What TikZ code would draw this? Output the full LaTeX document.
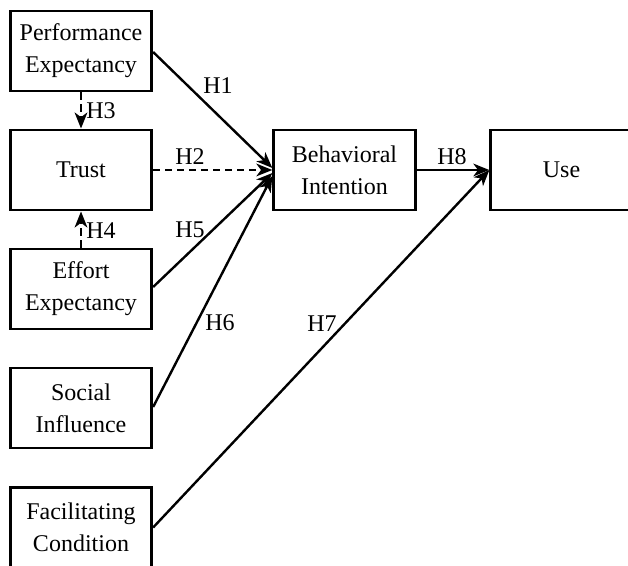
\documentclass[tikz,border=0pt]{standalone}
\usepackage{fontspec}
\setmainfont{Liberation Serif}
\usetikzlibrary{arrows.meta}

\begin{document}
\begin{tikzpicture}
[x=0.75pt,y=-0.75pt,%
  construct/.style={shape=rectangle,draw,line width=2.2pt,align=center,
    minimum width=106pt,minimum height=60pt,inner sep=0pt},%
  hyp/.style={inner sep=1pt},%
  path/.style={line width=1.8pt,-{Stealth[length=12pt,width=9.5pt,inset=3.5pt]}},%
  weak/.style={path,dash pattern=on 5.5pt off 3.5pt}]
\path[use as bounding box,clip] (0,0) rectangle (628,566);
\fontsize{18}{24}\selectfont
% exogenous constructs
\node[construct] (pe) at (81,51) {Performance\\Expectancy};
\node[construct] (tr) at (81,170) {Trust};
\node[construct] (ee) at (81,289) {Effort\\Expectancy};
\node[construct] (si) at (81,408) {Social\\Influence};
\node[construct] (fc) at (81,527.5) {Facilitating\\Condition};
% endogenous constructs
\node[construct] (bi) at (344.5,170) {Behavioral\\Intention};
\node[construct] (use) at (561.5,170) {Use};
% paths
\draw[path] (pe.east |- 0,52) -- (bi.west |- 0,168);
\draw[weak] (tr.east) -- (bi.west);
\draw[weak] (pe.south) -- (tr.north);
\draw[weak] (ee.north) -- (tr.south);
\draw[path] (ee.east |- 0,287) -- (bi.west |- 0,173);
\draw[path] (si.east |- 0,407) -- (bi.west |- 0,176);
\draw[path] (fc.east) -- (use.west);
\draw[path] (bi.east) -- (use.west);
% hypothesis labels
\node[hyp] (h1) at (218,86) {H1};
\node[hyp] (h2) at (190,157) {H2};
\node[hyp] (h3) at (101,111) {H3};
\node[hyp] (h4) at (101,231) {H4};
\node[hyp] (h5) at (190,230) {H5};
\node[hyp] (h6) at (220,323) {H6};
\node[hyp] (h7) at (322,324) {H7};
\node[hyp] (h8) at (452,157) {H8};
\end{tikzpicture}
\end{document}
